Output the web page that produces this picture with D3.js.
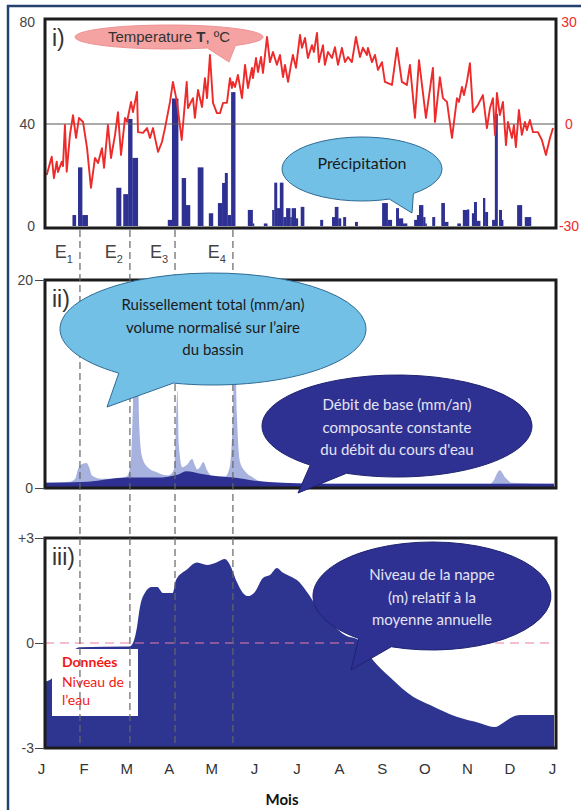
<!DOCTYPE html>
<html>
<head>
<meta charset="utf-8">
<script src="https://cdn.jsdelivr.net/npm/d3@7"></script>
<style>
  body { margin: 0; background: #fff; }
  svg { display: block; }
</style>
</head>
<body>
<div id="chart"></div>
<script>
// ---- data (day of year) ----
const months = ['J', 'F', 'M', 'A', 'M ', 'J ', 'J  ', 'A ', 'S', 'O', 'N', 'D', 'J   '];
const eventDays = [24.4, 60.3, 92.7, 134.3];

const tempDays = [0.5, 4.1, 5.7, 7.7, 8.6, 11.3, 12.2, 13.6, 14.9, 17.2,
  19.4, 21.6, 23.7, 26.6, 29.5, 32.3, 35.2, 37.4, 40.2, 41.7,
  44.5, 46.7, 49.6, 51.7, 53.9, 56.8, 58.2, 61.1, 62.5, 65.4,
  66.1, 69.7, 72.6, 74.7, 76.9, 78.3, 80.5, 83.3, 85.5, 89.1,
  91.2, 94.1, 97.5, 101.1, 102.0, 105.6, 107.0, 109.2, 112.1, 114.2,
  115.7, 117.8, 120.0, 122.8, 125.0, 127.2, 130.0, 132.2, 133.6, 134.3,
  135.8, 137.9, 140.8, 143.0, 145.1, 148.0, 148.7, 150.9, 152.3, 154.5,
  155.9, 158.8, 160.9, 163.1, 165.9, 168.1, 170.3, 171.7, 173.9, 176.0,
  177.4, 179.6, 182.5, 183.9, 186.1, 188.2, 191.1, 192.5, 194.7, 196.1,
  199.0, 200.4, 202.6, 205.5, 207.6, 209.8, 212.6, 214.8, 217.0, 219.8,
  222.7, 225.6, 227.7, 230.6, 231.3, 234.2, 236.4, 238.5, 241.4, 243.5,
  248.6, 252.2, 255.7, 259.3, 261.5, 265.1, 268.0, 273.0, 278.0, 279.5,
  283.0, 285.2, 288.1, 291.7, 295.3, 296.7, 298.9, 300.3, 302.4, 304.6,
  306.8, 310.3, 313.9, 316.8, 319.0, 321.1, 322.6, 324.0, 326.1, 328.3,
  330.5, 331.9, 334.8, 336.2, 337.6, 339.8, 341.9, 344.1, 345.5, 347.7,
  349.9, 353.4, 356.3, 359.2, 362.1, 364.3];
const tempValues = [-15.0, -9.6, -15.9, -11.1, -14.1, -11.1, -12.4, -0.3, -14.0, -3.2,
  2.6, -4.1, 1.8, 0.6, -7.1, -18.8, -10.0, -11.5, -7.1, -12.9,
  -0.3, -10.0, -3.2, 3.5, -9.1, 1.8, 0.6, 6.5, 3.5, 9.4,
  -2.4, -2.6, -1.2, -4.1, -1.2, -4.1, -8.2, -5.3, -1.2, 6.5,
  12.4, 6.5, -4.7, 12.4, 4.7, 7.6, 1.8, 10.0, 5.0, 13.5,
  7.6, 20.3, 6.2, 3.2, 3.2, 6.2, 6.2, 13.5, 10.6, 12.4,
  10.9, 14.4, 7.6, 17.4, 10.6, 16.5, 13.5, 19.4, 15.3, 19.7,
  15.0, 25.6, 18.2, 21.2, 17.4, 20.3, 13.8, 17.4, 12.4, 17.4,
  20.3, 16.5, 26.2, 22.4, 25.3, 19.4, 23.2, 21.2, 26.8, 18.2,
  23.2, 17.4, 21.2, 19.4, 22.6, 17.4, 22.4, 18.2, 19.7, 18.2,
  25.6, 19.7, 22.4, 20.3, 22.4, 18.2, 20.3, 15.9, 18.2, 12.4,
  11.5, 22.4, 12.4, 11.5, 17.4, 1.8, 18.8, 1.8, 16.5, 0.6,
  13.8, 7.6, 6.5, -4.1, 7.6, 6.5, 10.9, 8.5, 12.4, 17.9,
  3.5, 5.6, 8.5, -1.2, 4.7, 7.6, -3.2, 9.1, 2.6, 6.5,
  -6.2, 0.6, -4.1, -0.3, -6.8, 4.1, -3.2, 0.6, -1.8, 1.2,
  -2.4, -2.4, -4.7, -9.1, -4.1, -1.2];

const precipStart = [19, 23, 26, 50.5, 55.5, 59, 62, 87.5, 90.5, 97.5, 100.5, 109, 117, 123.5, 126.5, 128.5, 130.5, 133,
  145, 148.5, 156.5, 162.5, 164, 166, 168, 170.5, 172.5, 175.5, 176.5, 179.5, 183, 197, 205.5, 207.5, 210, 213.5, 222,
  241.5, 245.5, 251.5, 253.5, 256.5, 264.5, 266.5, 268, 271, 272.5, 277.5, 284, 286.5, 295.5, 299.5, 302.5, 306, 307.5,
  309.5, 314, 315.5, 320.5, 322.5, 325.5, 327.5, 338.5, 344];
const precipEnd = [21.5, 26, 30, 54, 59, 62, 66, 90.5, 95, 100.5, 103.5, 113, 120, 126.5, 128.5, 130.5, 133, 136,
  148.5, 149.5, 159, 164, 166, 168, 170.5, 172.5, 175.5, 176.5, 179.5, 181, 185.5, 199, 207.5, 210, 212, 215.5, 224,
  245.5, 248.5, 253.5, 256.5, 259.5, 266.5, 268, 271, 272.5, 273.5, 279.5, 286.5, 289, 298, 302.5, 304, 307.5, 309.5,
  312, 315.5, 317.5, 322.5, 324.5, 327.5, 328.5, 342, 348.5];
const precipValues = [4.3, 23, 4.3, 15, 12.5, 42, 26.7, 2.4, 50, 18.8, 8.2, 23, 5, 9, 16.9, 20.8, 4.3, 52.5,
  6.3, 1, 1, 6.3, 17, 7, 17, 3.5, 7, 3.5, 7, 3, 7.5, 2.4, 3.5, 7.5, 3, 3.5, 1.6,
  9, 2.4, 7, 3, 1, 2.4, 4.3, 8.2, 3.5, 1, 3.5, 9, 1.6, 1, 6.3, 6.5, 5, 9.4,
  2, 11, 5.5, 2.4, 44, 6.3, 2.4, 8.2, 3.5];

const runoffDays = [0, 17, 21, 23, 26, 29, 31, 33, 39, 50, 58, 61, 62.5, 64, 65.5, 67, 69, 73, 80, 88,
  92, 93.4, 94.5, 95.5, 98, 101, 105, 107, 108.5, 110.6, 113, 115.7, 120, 128.6, 132, 134.3, 135.8, 137.2, 139.4, 143,
  148.7, 155, 175, 319, 321, 326, 330, 335, 365];
const runoffValues = [0.5, 0.6, 0.9, 1.8, 2.3, 2.4, 2.0, 1.2, 0.9, 0.9, 1.1, 2.5, 8, 15, 16, 6, 3, 2.0, 1.5, 1.2,
  1.8, 6, 9.4, 4, 2.0, 2.2, 2.8, 2.2, 1.8, 2.0, 2.5, 1.7, 1.1, 1.1, 2.0, 7, 14, 7, 2.5, 1.6,
  1.0, 0.6, 0.4, 0.4, 0.6, 1.7, 1.0, 0.5, 0.4];

const baseDays = [0, 30, 58, 80, 95, 101, 110, 125, 135, 150, 170, 200, 365];
const baseValues = [0.5, 0.6, 1.0, 1.0, 1.3, 1.6, 1.4, 1.1, 1.0, 0.7, 0.5, 0.4, 0.4];

const levelDays = [0, 3, 10, 20, 24, 60, 62.5, 65.4, 67.5, 71, 76, 80, 84, 91, 93.4, 101, 108.5, 115.7, 122.8, 128.6,
  132.2, 137.2, 141.5, 145.1, 150.1, 155.9, 160.9, 166, 169.5, 175.3, 180.3, 187.5, 194.7, 204, 216, 224, 235, 247, 264, 276,
  295, 312, 322.6, 328, 335.5, 340.5, 365];
const levelValues = [-1.1, -1.05, -0.7, -0.2, -0.12, -0.1, 0, 0.46, 1.03, 1.43, 1.6, 1.6, 1.43, 1.43, 1.8, 2.09, 2.3, 2.23, 2.31, 2.4,
  2.23, 1.74, 1.43, 1.34, 1.46, 1.86, 1.94, 2.14, 2.03, 1.91, 1.8, 1.46, 1.03, 0.6, 0.2, 0.1, -0.49, -0.97, -1.54, -1.77,
  -2.11, -2.29, -2.4, -2.29, -2.11, -2.06, -2.06];

// ---- layout ----
const width = 581, height = 810;
const left = 45, right = 556;
const panels = [
  { id: 'p1', top: 19, bottom: 228, label: 'i)' },
  { id: 'p2', top: 280, bottom: 488, label: 'ii)' },
  { id: 'p3', top: 538, bottom: 748, label: 'iii)' }
];
const navy = '#2e3192';
const lightFlow = '#a7b2df';
const red = '#ee2b2b';
const axisFont = '"Liberation Sans", Arial, sans-serif';
const bubbleFont = 'Lato, "Noto Sans", sans-serif';

const x = d3.scaleLinear().domain([0, 365]).range([46, 554]);
const yPrecip = d3.scaleLinear().domain([0, 80]).range([226, 22]);
const yTemp = d3.scaleLinear().domain([-30, 30]).range([226, 22]);
const yFlow = d3.scaleLinear().domain([0, 20]).range([488, 280]);
const yLevel = d3.scaleLinear().domain([-3, 3]).range([748, 538]);
const xMonth = d3.scalePoint().domain(months).range([41, 552]);

const svg = d3.select('#chart').append('svg')
  .attr('width', width)
  .attr('height', height);

// outer frame
svg.append('rect')
  .attr('x', 8).attr('y', 6)
  .attr('width', 600).attr('height', 840)
  .attr('fill', 'none')
  .attr('stroke', '#24426e')
  .attr('stroke-width', 2.5);

const defs = svg.append('defs');
panels.forEach(p => {
  defs.append('clipPath').attr('id', 'clip-' + p.id)
    .append('rect')
    .attr('x', left).attr('y', p.top)
    .attr('width', right - left).attr('height', p.bottom - p.top);
});

// ---- panel i : precipitation + temperature ----
const g1 = svg.append('g').attr('clip-path', 'url(#clip-p1)');

g1.selectAll('rect.rain')
  .data(precipValues.map((v, i) => ({ s: precipStart[i], e: precipEnd[i], v })))
  .join('rect')
  .attr('class', 'rain')
  .attr('x', d => x(d.s))
  .attr('width', d => x(d.e) - x(d.s) + 0.2)
  .attr('y', d => yPrecip(d.v))
  .attr('height', d => yPrecip(0) - yPrecip(d.v))
  .attr('fill', navy);

g1.append('line')
  .attr('x1', left).attr('x2', right)
  .attr('y1', yPrecip(40)).attr('y2', yPrecip(40))
  .attr('stroke', '#555')
  .attr('stroke-width', 1);

g1.append('path')
  .datum(tempDays.map((d, i) => [d, tempValues[i]]))
  .attr('d', d3.line().x(d => x(d[0])).y(d => yTemp(d[1])))
  .attr('fill', 'none')
  .attr('stroke', red)
  .attr('stroke-width', 1.9)
  .attr('stroke-linejoin', 'round');

// ---- panel ii : runoff ----
const g2 = svg.append('g').attr('clip-path', 'url(#clip-p2)');

g2.append('path')
  .datum(runoffDays.map((d, i) => [d, runoffValues[i]]))
  .attr('d', d3.area().curve(d3.curveMonotoneX)
    .x(d => x(d[0])).y0(yFlow(0)).y1(d => yFlow(d[1])))
  .attr('fill', lightFlow);

g2.append('path')
  .datum(baseDays.map((d, i) => [d, baseValues[i]]))
  .attr('d', d3.area().curve(d3.curveMonotoneX)
    .x(d => x(d[0])).y0(yFlow(0)).y1(d => yFlow(d[1])))
  .attr('fill', navy);

// ---- panel iii : water table ----
const g3 = svg.append('g').attr('clip-path', 'url(#clip-p3)');

g3.append('path')
  .datum(levelDays.map((d, i) => [d, levelValues[i]]))
  .attr('d', d3.area().curve(d3.curveMonotoneX)
    .x(d => x(d[0])).y0(yLevel(-3)).y1(d => yLevel(d[1])))
  .attr('fill', '#2e3590');

g3.append('line')
  .attr('x1', left).attr('x2', right)
  .attr('y1', yLevel(0)).attr('y2', yLevel(0))
  .attr('stroke', '#e77fa5')
  .attr('stroke-width', 1.1)
  .attr('stroke-dasharray', '9,6');

// boxes + panel labels
panels.forEach(p => {
  svg.append('rect')
    .attr('x', left).attr('y', p.top)
    .attr('width', right - left).attr('height', p.bottom - p.top)
    .attr('fill', 'none')
    .attr('stroke', '#1c1c1c')
    .attr('stroke-width', 3);
  svg.append('text')
    .attr('x', 52).attr('y', p.top + 27)
    .attr('font-family', axisFont)
    .attr('font-size', 23)
    .attr('fill', '#333')
    .text(p.label);
});

// ---- axes ----
function styleAxis(g) {
  g.select('.domain').remove();
  g.selectAll('.tick line').attr('stroke', '#444');
  g.selectAll('.tick text')
    .attr('font-family', axisFont)
    .attr('font-size', 14)
    .attr('fill', '#444');
}

svg.append('g')
  .attr('transform', `translate(${left},0)`)
  .call(d3.axisLeft(yPrecip).tickValues([0, 40, 80]).tickSize(0).tickPadding(10))
  .call(styleAxis);

svg.append('g')
  .attr('transform', `translate(${right},0)`)
  .call(d3.axisRight(yTemp).tickValues([-30, 0, 30]).tickSize(0).tickFormat(d => String(d)))
  .call(styleAxis)
  .call(g => g.selectAll('.tick text').attr('fill', red).attr('text-anchor', 'middle').attr('x', 13));

svg.append('g')
  .attr('transform', `translate(${left},0)`)
  .call(d3.axisLeft(yFlow).tickValues([0, 20]).tickSize(10).tickPadding(2))
  .call(styleAxis);

svg.append('g')
  .attr('transform', `translate(${left},0)`)
  .call(d3.axisLeft(yLevel).tickValues([-3, 0, 3]).tickSize(10).tickPadding(1)
    .tickFormat(d => d > 0 ? '+' + d : String(d)))
  .call(styleAxis);

svg.append('g')
  .attr('transform', 'translate(0,760)')
  .call(d3.axisBottom(xMonth).tickSize(0).tickPadding(3).tickFormat(d => d.trim()))
  .call(styleAxis)
  .call(g => g.selectAll('.tick text').attr('font-size', 15).attr('fill', '#333'));

svg.append('text')
  .attr('x', 282).attr('y', 805)
  .attr('text-anchor', 'middle')
  .attr('font-family', bubbleFont)
  .attr('font-weight', 'bold')
  .attr('font-size', 15)
  .attr('fill', '#111')
  .text('Mois');

// ---- water level label box ----
svg.append('rect')
  .attr('x', 52).attr('y', 649)
  .attr('width', 86).attr('height', 67)
  .attr('fill', '#fff');
const lbl = svg.append('text')
  .attr('font-family', bubbleFont)
  .attr('font-size', 14)
  .attr('fill', '#f21818');
lbl.append('tspan').attr('x', 62).attr('y', 667).attr('font-weight', 'bold').text('Données');
lbl.append('tspan').attr('x', 62).attr('y', 687).text('Niveau de');
lbl.append('tspan').attr('x', 62).attr('y', 705).text('l’eau');

// ---- event lines + labels ----
svg.append('g')
  .selectAll('line')
  .data(eventDays)
  .join('line')
  .attr('x1', d => x(d)).attr('x2', d => x(d))
  .attr('y1', 230).attr('y2', 747)
  .attr('stroke', '#666')
  .attr('stroke-width', 1.2)
  .attr('stroke-dasharray', '7,4');

const eLabels = svg.append('g')
  .selectAll('text')
  .data(eventDays)
  .join('text')
  .attr('x', d => x(d) - 7)
  .attr('y', 258)
  .attr('text-anchor', 'end')
  .attr('font-family', axisFont)
  .attr('fill', '#444');
eLabels.append('tspan').attr('font-size', 18).text('E');
eLabels.append('tspan').attr('font-size', 11).attr('dy', 5).text((d, i) => i + 1);

// ---- speech bubbles ----
function bubble(b) {
  const p = a => [b.cx + b.rx * Math.cos(a * Math.PI / 180), b.cy + b.ry * Math.sin(a * Math.PI / 180)];
  const [x1, y1] = p(b.a1), [x2, y2] = p(b.a2);
  const g = svg.append('g');
  g.append('path')
    .attr('d', `M${x2},${y2}A${b.rx},${b.ry} 0 1 1 ${x1},${y1}L${b.tip[0]},${b.tip[1]}Z`)
    .attr('fill', b.fill)
    .attr('stroke', b.stroke)
    .attr('stroke-width', 1);
  const t = g.append('text')
    .attr('text-anchor', 'middle')
    .attr('font-family', b.font || bubbleFont)
    .attr('font-size', b.size)
    .attr('fill', b.color);
  b.lines.forEach((line, i) => {
    const ts = t.append('tspan').attr('x', b.cx).attr('y', b.ty + i * b.lh);
    if (Array.isArray(line)) {
      line.forEach(part => ts.append('tspan').attr('font-weight', part.bold ? 'bold' : null).text(part.t));
    } else {
      ts.text(line);
    }
  });
}

bubble({ cx: 169, cy: 37, rx: 94, ry: 12, a1: 45, a2: 66, tip: [229, 62],
  fill: '#f4a2a2', stroke: '#ee9393', color: '#333', font: axisFont, size: 15, ty: 42, lh: 0,
  lines: [[{ t: 'Temperature ' }, { t: 'T', bold: true }, { t: ', ºC' }]] });

bubble({ cx: 362, cy: 169, rx: 80, ry: 32, a1: 50, a2: 70, tip: [412, 213],
  fill: '#72c0e6', stroke: '#2f6a94', color: '#1a1a1a', size: 16, ty: 169, lh: 0,
  lines: ['Précipitation'] });

bubble({ cx: 213, cy: 329, rx: 153, ry: 56, a1: 105, a2: 128, tip: [107, 407],
  fill: '#72c0e6', stroke: '#2f6a94', color: '#1a1a1a', size: 15, ty: 310, lh: 22.5,
  lines: ['Ruissellement total (mm/an)', 'volume normalisé sur l’aire', 'du bassin'] });

bubble({ cx: 397, cy: 426, rx: 135, ry: 51, a1: 112, a2: 130, tip: [298, 493],
  fill: navy, stroke: '#1f2270', color: '#e4e4f4', size: 15, ty: 410, lh: 22.5,
  lines: ['Débit de base (mm/an)', 'composante constante', 'du débit du cours d\'eau'] });

bubble({ cx: 432, cy: 596, rx: 119, ry: 54, a1: 110, a2: 128, tip: [351, 670],
  fill: navy, stroke: '#1f2270', color: '#e4e4f4', size: 15, ty: 580, lh: 22.5,
  lines: ['Niveau de la nappe', '(m) relatif à la', 'moyenne annuelle'] });
</script>
</body>
</html>
